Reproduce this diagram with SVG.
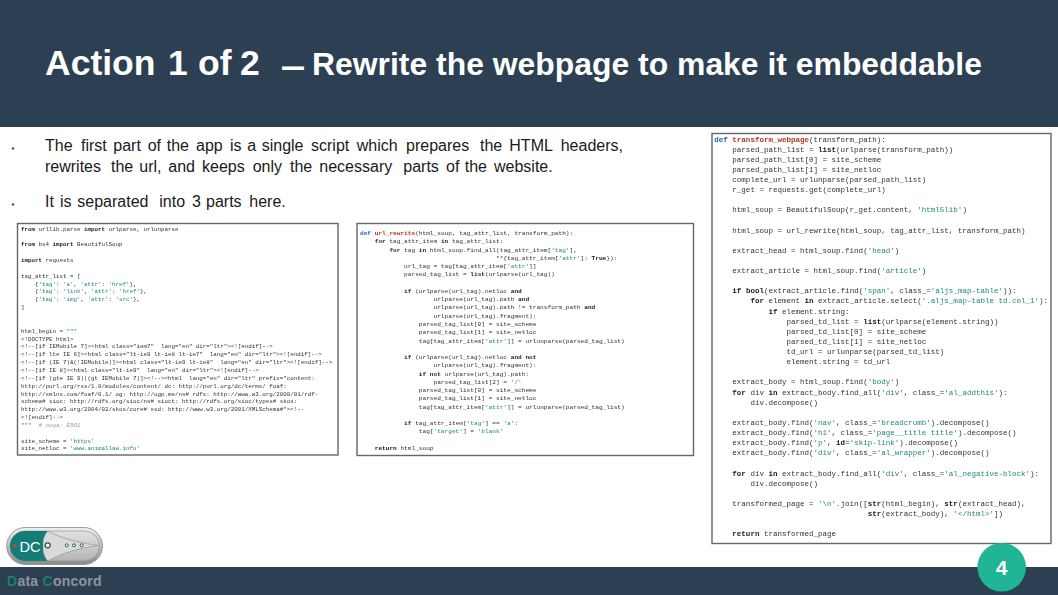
<svg xmlns="http://www.w3.org/2000/svg" width="1058" height="595" viewBox="0 0 1058 595">
<defs>
<filter id="soft" x="-2%" y="-2%" width="104%" height="104%"><feGaussianBlur stdDeviation="0.36"/></filter>
<linearGradient id="pillGray" x1="0" y1="0" x2="0" y2="1"><stop offset="0" stop-color="#e2e2e2"/><stop offset="1" stop-color="#b4b4b4"/></linearGradient>
<linearGradient id="pillEdge" x1="0" y1="0" x2="0" y2="1"><stop offset="0" stop-color="#f0f0f0"/><stop offset="1" stop-color="#8a8a8a"/></linearGradient>
</defs>
<style>
.bar{fill:#2d3f52}
.frame{fill:#fff;stroke:#666;stroke-width:1.4}
.code text{font-family:"Liberation Mono",monospace;fill:#333;white-space:pre}
.p1 text{font-size:5.83px}
.p2 text{font-size:6.14px}
.p3 text{font-size:7.53px}
.k{font-weight:bold;fill:#1a1a2a}
.d{font-weight:bold;fill:#1f5fa8}
.f{font-weight:bold;fill:#b5321c}
.s{fill:#1d8a78}
.c{fill:#999;font-style:italic}
.body{font-family:"Liberation Sans",Arial,sans-serif;font-size:16px;fill:#1a1a1a}
.title{font-family:"Liberation Sans",Arial,sans-serif;font-weight:bold;fill:#fff}
</style>
<rect class="bar" x="0" y="0" width="1058" height="127"/>
<rect class="bar" x="0" y="567" width="1058" height="28"/>
<g id="title">
<text class="title" y="75" font-size="35.5"><tspan x="45">Action</tspan> <tspan x="168">1</tspan> <tspan x="198">of</tspan> <tspan x="240">2</tspan></text>
<text class="title" x="280.7" y="78" font-size="35.5" textLength="24.5" lengthAdjust="spacingAndGlyphs">–</text>
<text class="title" x="312" y="75" font-size="31.9">Rewrite the webpage to make it embeddable</text>
</g>
<g id="bullets">
<circle cx="13" cy="148.4" r="1.2" fill="#444"/><circle cx="13" cy="204.4" r="1.2" fill="#444"/>
<text class="body" y="151"><tspan x="45">The</tspan> <tspan x="81">first</tspan> <tspan x="113.3">part</tspan> <tspan x="147.7">of</tspan> <tspan x="166.7">the</tspan> <tspan x="196">app</tspan> <tspan x="230">is</tspan> <tspan x="247.3">a</tspan> <tspan x="261.7">single</tspan> <tspan x="311">script</tspan> <tspan x="356.7">which</tspan> <tspan x="406">prepares</tspan> <tspan x="480">the</tspan> <tspan x="509.3">HTML</tspan> <tspan x="560.7">headers,</tspan></text>
<text class="body" y="172.3"><tspan x="45">rewrites</tspan> <tspan x="111">the</tspan> <tspan x="139.3">url,</tspan> <tspan x="168.3">and</tspan> <tspan x="202">keeps</tspan> <tspan x="252.7">only</tspan> <tspan x="290">the</tspan> <tspan x="319.3">necessary</tspan> <tspan x="403.3">parts</tspan> <tspan x="446">of</tspan> <tspan x="464.7">the</tspan> <tspan x="494">website.</tspan></text>
<text class="body" y="207.3"><tspan x="45">It</tspan> <tspan x="60">is</tspan> <tspan x="77.3">separated</tspan> <tspan x="159.3">into</tspan> <tspan x="192">3</tspan> <tspan x="206">parts</tspan> <tspan x="249.3">here.</tspan></text>
</g>
<g id="panel-imports">
<rect class="frame" x="17.5" y="223.5" width="320.5" height="231.5"/>
<g class="code p1" filter="url(#soft)">
<text x="21" y="230.5"><tspan class="k">from</tspan> urllib.parse <tspan class="k">import</tspan> urlparse, urlunparse</text>
<text x="21" y="246.2"><tspan class="k">from</tspan> bs4 <tspan class="k">import</tspan> BeautifulSoup</text>
<text x="21" y="261.9"><tspan class="k">import</tspan> requests</text>
<text x="21" y="277.7">tag_attr_list = [</text>
<text x="21" y="285.5">    {<tspan class="s">'tag'</tspan>: <tspan class="s">'a'</tspan>, <tspan class="s">'attr'</tspan>: <tspan class="s">'href'</tspan>},</text>
<text x="21" y="293.4">    {<tspan class="s">'tag'</tspan>: <tspan class="s">'link'</tspan>, <tspan class="s">'attr'</tspan>: <tspan class="s">'href'</tspan>},</text>
<text x="21" y="301.2">    {<tspan class="s">'tag'</tspan>: <tspan class="s">'img'</tspan>, <tspan class="s">'attr'</tspan>: <tspan class="s">'src'</tspan>},</text>
<text x="21" y="309.1">]</text>
<text x="21" y="332.7">html_begin = <tspan class="s">"""</tspan></text>
<text class="s" x="21" y="340.5">&lt;!DOCTYPE html&gt;</text>
<text class="s" x="21" y="348.4">&lt;!--[if IEMobile 7]&gt;&lt;html class="iem7"  lang="en" dir="ltr"&gt;&lt;![endif]--&gt;</text>
<text class="s" x="21" y="356.2">&lt;!--[if lte IE 6]&gt;&lt;html class="lt-ie9 lt-ie8 lt-ie7"  lang="en" dir="ltr"&gt;&lt;![endif]--&gt;</text>
<text class="s" x="21" y="364.1">&lt;!--[if (IE 7)&amp;(!IEMobile)]&gt;&lt;html class="lt-ie9 lt-ie8"  lang="en" dir="ltr"&gt;&lt;![endif]--&gt;</text>
<text class="s" x="21" y="371.9">&lt;!--[if IE 8]&gt;&lt;html class="lt-ie9"  lang="en" dir="ltr"&gt;&lt;![endif]--&gt;</text>
<text class="s" x="21" y="379.8">&lt;!--[if (gte IE 9)|(gt IEMobile 7)]&gt;&lt;!--&gt;&lt;html  lang="en" dir="ltr" prefix="content:</text>
<text class="s" x="21" y="387.6">http://purl.org/rss/1.0/modules/content/ dc: http://purl.org/dc/terms/ foaf:</text>
<text class="s" x="21" y="395.5">http://xmlns.com/foaf/0.1/ og: http://ogp.me/ns# rdfs: http://www.w3.org/2000/01/rdf-</text>
<text class="s" x="21" y="403.3">schema# sioc: http://rdfs.org/sioc/ns# sioct: http://rdfs.org/sioc/types# skos:</text>
<text class="s" x="21" y="411.2">http://www.w3.org/2004/02/skos/core# xsd: http://www.w3.org/2001/XMLSchema#"&gt;&lt;!--</text>
<text class="s" x="21" y="419">&lt;![endif]--&gt;</text>
<text x="21" y="426.9"><tspan class="s">"""</tspan>  <tspan class="c"># noqa: E501</tspan></text>
<text x="21" y="442.6">site_scheme = <tspan class="s">'https'</tspan></text>
<text x="21" y="450.4">site_netloc = <tspan class="s">'www.animallaw.info'</tspan></text>
</g></g>
<g id="panel-url-rewrite">
<rect class="frame" x="357" y="223.5" width="336.5" height="232"/>
<g class="code p2" filter="url(#soft)">
<text x="360" y="235"><tspan class="d">def</tspan> <tspan class="f">url_rewrite</tspan>(html_soup, tag_attr_list, transform_path):</text>
<text x="360" y="243.3">    <tspan class="k">for</tspan> tag_attr_item <tspan class="k">in</tspan> tag_attr_list:</text>
<text x="360" y="251.5">        <tspan class="k">for</tspan> tag <tspan class="k">in</tspan> html_soup.find_all(tag_attr_item[<tspan class="s">'tag'</tspan>],</text>
<text x="360" y="259.8">                                     **{tag_attr_item[<tspan class="s">'attr'</tspan>]: <tspan class="k">True</tspan>}):</text>
<text x="360" y="268.1">            url_tag = tag[tag_attr_item[<tspan class="s">'attr'</tspan>]]</text>
<text x="360" y="276.3">            parsed_tag_list = <tspan class="k">list</tspan>(urlparse(url_tag))</text>
<text x="360" y="292.9">            <tspan class="k">if</tspan> (urlparse(url_tag).netloc <tspan class="k">and</tspan></text>
<text x="360" y="301.1">                    urlparse(url_tag).path <tspan class="k">and</tspan></text>
<text x="360" y="309.4">                    urlparse(url_tag).path != transform_path <tspan class="k">and</tspan></text>
<text x="360" y="317.7">                    urlparse(url_tag).fragment):</text>
<text x="360" y="325.9">                parsed_tag_list[0] = site_scheme</text>
<text x="360" y="334.2">                parsed_tag_list[1] = site_netloc</text>
<text x="360" y="342.5">                tag[tag_attr_item[<tspan class="s">'attr'</tspan>]] = urlunparse(parsed_tag_list)</text>
<text x="360" y="359">            <tspan class="k">if</tspan> (urlparse(url_tag).netloc <tspan class="k">and not</tspan></text>
<text x="360" y="367.3">                    urlparse(url_tag).fragment):</text>
<text x="360" y="375.5">                <tspan class="k">if not</tspan> urlparse(url_tag).path:</text>
<text x="360" y="383.8">                    parsed_tag_list[2] = <tspan class="s">'/'</tspan></text>
<text x="360" y="392.1">                parsed_tag_list[0] = site_scheme</text>
<text x="360" y="400.3">                parsed_tag_list[1] = site_netloc</text>
<text x="360" y="408.6">                tag[tag_attr_item[<tspan class="s">'attr'</tspan>]] = urlunparse(parsed_tag_list)</text>
<text x="360" y="425.1">            <tspan class="k">if</tspan> tag_attr_item[<tspan class="s">'tag'</tspan>] == <tspan class="s">'a'</tspan>:</text>
<text x="360" y="433.4">                tag[<tspan class="s">'target'</tspan>] = <tspan class="s">'blank'</tspan></text>
<text x="360" y="449.9">    <tspan class="k">return</tspan> html_soup</text>
</g></g>
<g id="panel-transform">
<rect class="frame" x="712" y="133.5" width="339" height="410"/>
<g class="code p3" filter="url(#soft)">
<text x="714.3" y="141.5"><tspan class="d">def</tspan> <tspan class="f">transform_webpage</tspan>(transform_path):</text>
<text x="714.3" y="151.6">    parsed_path_list = <tspan class="k">list</tspan>(urlparse(transform_path))</text>
<text x="714.3" y="161.7">    parsed_path_list[0] = site_scheme</text>
<text x="714.3" y="171.9">    parsed_path_list[1] = site_netloc</text>
<text x="714.3" y="182">    complete_url = urlunparse(parsed_path_list)</text>
<text x="714.3" y="192.1">    r_get = requests.get(complete_url)</text>
<text x="714.3" y="212.3">    html_soup = BeautifulSoup(r_get.content, <tspan class="s">'html5lib'</tspan>)</text>
<text x="714.3" y="232.6">    html_soup = url_rewrite(html_soup, tag_attr_list, transform_path)</text>
<text x="714.3" y="252.8">    extract_head = html_soup.find(<tspan class="s">'head'</tspan>)</text>
<text x="714.3" y="273.1">    extract_article = html_soup.find(<tspan class="s">'article'</tspan>)</text>
<text x="714.3" y="293.3">    <tspan class="k">if</tspan> <tspan class="k">bool</tspan>(extract_article.find(<tspan class="s">'span'</tspan>, class_=<tspan class="s">'aljs_map-table'</tspan>)):</text>
<text x="714.3" y="303.4">        <tspan class="k">for</tspan> element <tspan class="k">in</tspan> extract_article.select(<tspan class="s">'.aljs_map-table td.col_1'</tspan>):</text>
<text x="714.3" y="313.5">            <tspan class="k">if</tspan> element.string:</text>
<text x="714.3" y="323.7">                parsed_td_list = <tspan class="k">list</tspan>(urlparse(element.string))</text>
<text x="714.3" y="333.8">                parsed_td_list[0] = site_scheme</text>
<text x="714.3" y="343.9">                parsed_td_list[1] = site_netloc</text>
<text x="714.3" y="354">                td_url = urlunparse(parsed_td_list)</text>
<text x="714.3" y="364.1">                element.string = td_url</text>
<text x="714.3" y="384.4">    extract_body = html_soup.find(<tspan class="s">'body'</tspan>)</text>
<text x="714.3" y="394.5">    <tspan class="k">for</tspan> div <tspan class="k">in</tspan> extract_body.find_all(<tspan class="s">'div'</tspan>, class_=<tspan class="s">'al_addthis'</tspan>):</text>
<text x="714.3" y="404.6">        div.decompose()</text>
<text x="714.3" y="424.9">    extract_body.find(<tspan class="s">'nav'</tspan>, class_=<tspan class="s">'breadcrumb'</tspan>).decompose()</text>
<text x="714.3" y="435">    extract_body.find(<tspan class="s">'h1'</tspan>, class_=<tspan class="s">'page__title title'</tspan>).decompose()</text>
<text x="714.3" y="445.1">    extract_body.find(<tspan class="s">'p'</tspan>, <tspan class="k">id</tspan>=<tspan class="s">'skip-link'</tspan>).decompose()</text>
<text x="714.3" y="455.2">    extract_body.find(<tspan class="s">'div'</tspan>, class_=<tspan class="s">'al_wrapper'</tspan>).decompose()</text>
<text x="714.3" y="475.5">    <tspan class="k">for</tspan> div <tspan class="k">in</tspan> extract_body.find_all(<tspan class="s">'div'</tspan>, class_=<tspan class="s">'al_negative-block'</tspan>):</text>
<text x="714.3" y="485.6">        div.decompose()</text>
<text x="714.3" y="505.8">    transformed_page = <tspan class="s">'\n'</tspan>.join([<tspan class="k">str</tspan>(html_begin), <tspan class="k">str</tspan>(extract_head),</text>
<text x="714.3" y="516">                                  <tspan class="k">str</tspan>(extract_body), <tspan class="s">'&lt;/html&gt;'</tspan>])</text>
<text x="714.3" y="536.2">    <tspan class="k">return</tspan> transformed_page</text>
</g></g>
<g id="logo">
<rect x="6.7" y="527.5" width="95.8" height="37" rx="18.5" fill="url(#pillEdge)" stroke="#888" stroke-width="0.8"/>
<rect x="10" y="531" width="89.5" height="30" rx="15" fill="url(#pillGray)" stroke="#8a8a8a" stroke-width="0.6"/>
<path d="M25 531 H48 C44 535 43 540 43 546 C43 552 44 557 48 561 H25 A15 15 0 0 1 25 531Z" fill="#127d78"/>
<path d="M48 531 C62 539 80 543 98 545.5 C80 548 62 553 48 561 C44 557 43 552 43 546 C43 540 44 535 48 531Z" fill="#dadada" stroke="#8a8a8a" stroke-width="0.6"/>
<circle cx="15" cy="546" r="1.7" fill="#d0432e"/>
<text x="19.5" y="551.7" font-family="Liberation Sans,Arial,sans-serif" font-size="14.6" fill="#fff">DC</text>
<circle cx="47.7" cy="545.3" r="2.5" fill="#fff" stroke="#155e5a" stroke-width="1.3"/>
<circle cx="66.7" cy="545.3" r="1.5" fill="#fff" stroke="#155e5a" stroke-width="1"/>
<circle cx="74" cy="545.3" r="1.5" fill="#fff" stroke="#155e5a" stroke-width="1"/>
<circle cx="81.7" cy="545.3" r="1.5" fill="#fff" stroke="#155e5a" stroke-width="1"/>
</g>
<text id="brand" x="7" y="586.3" font-family="Liberation Sans,Arial,sans-serif" font-weight="bold" font-size="14" letter-spacing="0.25" fill="#8e959c"><tspan fill="#17806f">D</tspan>ata <tspan fill="#17806f">C</tspan>oncord</text>
<g id="page-number">
<circle cx="1001.7" cy="567.2" r="24.3" fill="#1fb596"/>
<text x="1001.7" y="575" text-anchor="middle" font-family="Liberation Sans,Arial,sans-serif" font-weight="bold" font-size="21" fill="#fff">4</text>
</g>
</svg>
